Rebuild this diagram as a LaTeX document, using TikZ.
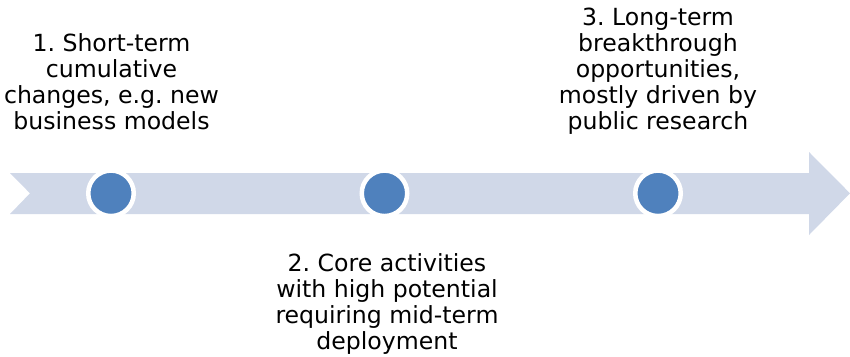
\documentclass[tikz,border=0pt]{standalone}
\usepackage{fontspec}
\setmainfont{DejaVu Sans}
\frenchspacing
\definecolor{bandcol}{HTML}{D0D8E8}
\definecolor{dotcol}{HTML}{4F81BD}
\tikzset{
  dot/.style={circle, fill=dotcol, draw=white, line width=4.5pt, minimum size=45.5pt, inner sep=0pt},
  label text/.style={align=center, inner sep=0pt, text depth=0pt, anchor=south,
    font=\fontsize{23.6pt}{26pt}\selectfont\frenchspacing}
}
\begin{document}
\begin{tikzpicture}[x=1pt,y=-1pt]
\useasboundingbox (0,0) rectangle (850,356);
\fill[bandcol] (10,173) -- (809,173) -- (809,152) -- (850,193.3) -- (809,235) -- (809,214) -- (10,214) -- (30,193.3) -- cycle;
\node[dot] (d1) at (111,193.3) {};
\node[dot] (d2) at (384.5,193.3) {};
\node[dot] (d3) at (658,193.3) {};
\node[label text] (t1) at (111.5,129.3) {1. Short-term\\cumulative\\changes, e.g. new\\business models};
\node[label text] (t3) at (658,129.3) {3. Long-term\\breakthrough\\opportunities,\\mostly driven by\\public research};
\node[label text] (t2) at (387,349.3) {2. Core activities\\with high potential\\requiring mid-term\\deployment};
\end{tikzpicture}
\end{document}
